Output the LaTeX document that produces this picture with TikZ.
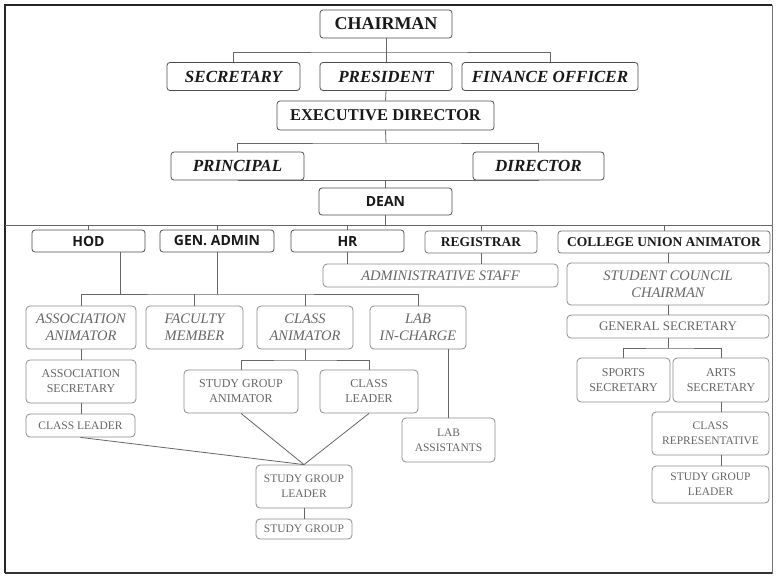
\documentclass[tikz,border=0pt]{standalone}
\usepackage{fontspec}
\setmainfont{Liberation Serif}
\newfontfamily\headsans{Open Sans}
\usepackage{tikz}
\usetikzlibrary{calc, positioning}
\usepackage{xcolor}

\begin{document}
\begin{tikzpicture}[x=1pt, y=-1pt]
	\tikzstyle{head} = [draw=black!70, thick, rounded corners=3pt, inner sep=0pt, minimum height=28pt, align=center, text=black!90, font=\fontsize{16.5}{19}\selectfont\bfseries]
	\tikzstyle{headi} = [head, font=\fontsize{17}{19}\selectfont\bfseries\itshape]
	\tikzstyle{sans} = [head, minimum height=22pt, font=\headsans\fontsize{14}{16}\selectfont\bfseries]
	\tikzstyle{serifb} = [head, minimum height=22pt, draw=black!55, font=\fontsize{13.5}{15}\selectfont\bfseries]
	\tikzstyle{gray} = [draw=black!45, thick, rounded corners=4pt, inner sep=0pt, minimum height=43pt, align=center, text=black!60, font=\fontsize{12}{15}\selectfont]
	\tikzstyle{grayi} = [gray, font=\fontsize{14.5}{17}\selectfont\itshape]
	\tikzstyle{link} = [draw=black!60, line width=0.8pt]

	\useasboundingbox (0,0) rectangle (776,576);
	% frame
	\draw [black!55, line width=1pt] (5,5) rectangle (772,573);
	\draw [black!85, line width=2.5pt] (5,573) -- (5,5) -- (772,5);
	\draw [black!80, line width=2pt] (5,573) -- (772,573);

	% board
	\node[head, minimum width=132pt, font=\fontsize{18}{20}\selectfont\bfseries] at (386,24) (chair) {CHAIRMAN};
	\node[headi, minimum width=133pt] at (233.5,76.5) (sec) {SECRETARY};
	\node[headi, minimum width=132pt] at (386,76.5) (pres) {PRESIDENT};
	\node[headi, minimum width=176pt] at (550,76.5) (fin) {FINANCE OFFICER};
	\node[head, minimum width=217pt, minimum height=29pt] at (385.5,115.5) (exec) {EXECUTIVE DIRECTOR};
	\node[headi, minimum width=133pt] at (237.5,166) (prin) {PRINCIPAL};
	\node[headi, minimum width=131pt] at (538.5,166) (dir) {DIRECTOR};
	\node[sans, minimum width=133pt, minimum height=27pt] at (385.5,201.5) (dean) {DEAN};

	\coordinate (b1) at (386,52);
	\coordinate (b2) at (386,143);
	\draw [link] (chair.south) -- (b1);
	\draw [link] (sec.north) |- (b1) -| (fin.north);
	\draw [link] (b1) -- (pres.north);
	\draw [link] (pres.south) -- (exec.north);
	\draw [link] (exec.south) -- (b2);
	\draw [link] (prin.north) |- (b2) -| (dir.north);
	\draw [link] (prin.south) -- (dir.south);
	\draw [link] (dean.north) -- (dean.north |- prin.south);

	% departments
	\coordinate (sl) at (5,225);
	\coordinate (sr) at (772,225);
	\draw [link] (sl) -- (sr);
	\draw [link] (dean.south) -- (dean.south |- sl);

	\node[sans, minimum width=113pt] at (88.5,241) (hod) {HOD};
	\node[sans, minimum width=114pt] at (217,241) (gen) {GEN. ADMIN};
	\node[sans, minimum width=113pt] at (347.5,241) (hr) {HR};
	\node[serifb, minimum width=112pt] at (481,242) (reg) {REGISTRAR};
	\node[serifb, minimum width=212pt] at (664,242) (cua) {COLLEGE UNION ANIMATOR};

	\draw [link] (hod.north) -- (hod.north |- sl);
	\draw [link] (gen.north) -- (gen.north |- sl);
	\draw [link] (hr.north) -- (hr.north |- sl);
	\draw [link] (reg.north) -- (reg.north |- sl);
	\draw [link] (cua.north) -- (cua.north |- sl);

	\node[grayi, minimum width=235pt, minimum height=23pt] at (440.5,275.5) (adm) {ADMINISTRATIVE STAFF};
	\draw [link] (hr.south) -- (hr.south |- adm.north);
	\draw [link] (reg.south) -- (reg.south |- adm.north);

	% academic side
	\node[grayi, minimum width=110pt] at (81,327.5) (aa) {ASSOCIATION\\ANIMATOR};
	\node[grayi, minimum width=97pt] at (194.5,327.5) (fm) {FACULTY\\MEMBER};
	\node[grayi, minimum width=96pt] at (305,327.5) (ca) {CLASS\\ANIMATOR};
	\node[grayi, minimum width=96pt] at (418,327.5) (lab) {LAB\\IN-CHARGE};

	\coordinate (b3) at (212,294);
	\coordinate (h1) at ($(hod.south)!0.56!(hod.south east)$);
	\draw [link] (h1) -- (h1 |- b3);
	\draw [link] (gen.south) -- (gen.south |- b3);
	\draw [link] (aa.north) |- (b3) -| (lab.north);
	\draw [link] (fm.north) -- (fm.north |- b3);
	\draw [link] (ca.north) -- (ca.north |- b3);

	\node[gray, minimum width=110pt] at (81,381.5) (as) {ASSOCIATION\\SECRETARY};
	\node[gray, minimum width=109pt, minimum height=23pt, font=\fontsize{11.5}{14}\selectfont] at (80.5,425.5) (cl) {CLASS LEADER};
	\node[gray, minimum width=114pt] at (241,391.5) (sga) {STUDY GROUP\\ANIMATOR};
	\node[gray, minimum width=98pt] at (369,391.5) (cl2) {CLASS\\LEADER};
	\node[gray, minimum width=96pt, font=\fontsize{11.5}{15}\selectfont] at (304,486.5) (sgl) {STUDY GROUP\\LEADER};
	\node[gray, minimum width=96pt, minimum height=20pt, font=\fontsize{11.5}{14}\selectfont] at (304,529) (sg) {STUDY GROUP};
	\node[gray, minimum width=93pt, minimum height=44pt, font=\fontsize{11.5}{15}\selectfont] at (448.5,440) (la) {LAB\\ASSISTANTS};

	\draw [link] (aa.south) -- (as.north);
	\draw [link] (as.south) -- (as.south |- cl.north);
	\coordinate (b4) at (305,360);
	\draw [link] (ca.south) -- (b4);
	\draw [link] (sga.north) |- (b4) -| (cl2.north);
	\draw [link] (sga.south) -- (sgl.north);
	\draw [link] (cl2.south) -- (sgl.north);
	\draw [link] (cl.south) -- (sgl.north);
	\draw [link] (sgl.south) -- (sg.north);
	\draw [link] (la.north) -- (la.north |- lab.south);

	% student union
	\node[grayi, minimum width=202pt, minimum height=42pt] at (668,284) (scc) {STUDENT COUNCIL\\CHAIRMAN};
	\node[gray, minimum width=202pt, minimum height=23pt, font=\fontsize{13}{15}\selectfont] at (668,326.5) (gs) {GENERAL SECRETARY};
	\node[gray, minimum width=93pt, minimum height=44pt] at (623.5,380) (ss) {SPORTS\\SECRETARY};
	\node[gray, minimum width=96pt, minimum height=44pt] at (721,380) (ars) {ARTS\\SECRETARY};
	\node[gray, minimum width=117pt, font=\fontsize{11.5}{15}\selectfont] at (710.5,433.5) (cr) {CLASS\\REPRESENTATIVE};
	\node[gray, minimum width=117pt, minimum height=37pt, font=\fontsize{11.5}{15}\selectfont] at (710.5,484.5) (sgl2) {STUDY GROUP\\LEADER};

	\draw [link] (scc.north) -- (scc.north |- cua.south);
	\draw [link] (scc.south) -- (gs.north);
	\coordinate (b5) at (668,348);
	\draw [link] (gs.south) -- (b5);
	\draw [link] (ss.north) |- (b5) -| (ars.north);
	\draw [link] (ars.south) -- (ars.south |- cr.north);
	\draw [link] (ars.south |- cr.south) -- (ars.south |- sgl2.north);
\end{tikzpicture}
\end{document}
